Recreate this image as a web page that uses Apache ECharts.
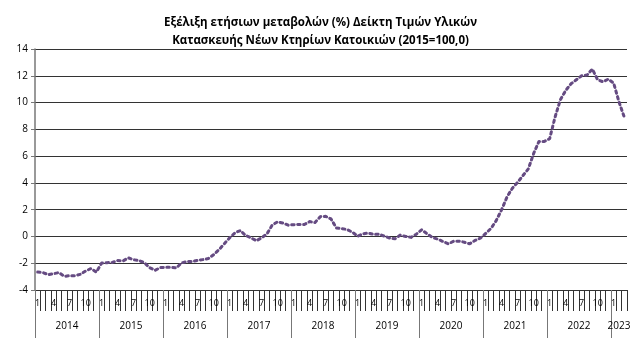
<!DOCTYPE html>
<html>
<head>
<meta charset="utf-8">
<script src="https://cdn.jsdelivr.net/npm/echarts@6/dist/echarts.min.js"></script>
<style>html,body{margin:0;padding:0;background:#fff}#c{width:641px;height:352px}</style>
</head>
<body>
<div id="c"></div>
<script>
var years = ['2014','2015','2016','2017','2018','2019','2020','2021','2022','2023'];
var monthsPerYear = [12,12,12,12,12,12,12,12,12,3];
var values2014 = [-2.66,-2.7,-2.86,-2.78,-2.7,-2.98,-2.93,-2.93,-2.83,-2.58,-2.4,-2.66];
var values2015 = [-1.99,-1.96,-1.94,-1.8,-1.83,-1.6,-1.74,-1.8,-1.96,-2.33,-2.53,-2.33];
var values2016 = [-2.3,-2.3,-2.35,-1.97,-1.88,-1.88,-1.78,-1.73,-1.65,-1.36,-0.99,-0.54];
var values2017 = [-0.1,0.27,0.44,0.07,-0.1,-0.32,-0.1,0.2,0.86,1.09,1.0,0.84];
var values2018 = [0.88,0.9,0.89,1.11,1.04,1.48,1.5,1.31,0.64,0.59,0.52,0.32];
var values2019 = [0.02,0.2,0.25,0.15,0.17,0.02,-0.12,-0.17,0.1,0,-0.07,0.17];
var values2020 = [0.5,0.2,-0.07,-0.2,-0.38,-0.55,-0.36,-0.35,-0.43,-0.55,-0.3,-0.13];
var values2021 = [0.22,0.6,1.2,2.0,2.95,3.6,4.05,4.55,5.05,6.2,7.1,7.1];
var values2022 = [7.3,8.9,10.2,10.9,11.4,11.7,12.0,12.05,12.5,11.7,11.55,11.75];
var values2023 = [11.45,10.05,8.9];
var yTicks = [-4,-2,0,2,4,6,8,10,12,14];

var values = [].concat(values2014,values2015,values2016,values2017,values2018,values2019,values2020,values2021,values2022,values2023);
var categories = [];
years.forEach(function(y,i){ for(var m=1;m<=monthsPerYear[i];m++){ categories.push(y+'-'+m); } });
var total = categories.length;
var yearStarts = [], yearMids = [], acc = 0;
years.forEach(function(y,i){ yearStarts.push(acc); yearMids.push(acc + monthsPerYear[i]/2); acc += monthsPerYear[i]; });

var font = 'Open Sans';
var chart = echarts.init(document.getElementById('c'));
chart.setOption({
  animation:false,
  title:{
    text:'Εξέλιξη ετήσιων μεταβολών (%) Δείκτη Τιμών Υλικών\nΚατασκευής Νέων Κτηρίων Κατοικιών (2015=100,0)',
    left:'center', top:9,
    textStyle:{fontFamily:font,fontSize:11.5,fontWeight:'bold',color:'#000',lineHeight:18}
  },
  grid:{left:35,right:14,top:49,bottom:62},
  xAxis:[{
    type:'category', data:categories, boundaryGap:true, position:'bottom',
    axisLine:{show:true,onZero:false,lineStyle:{color:'#333',width:1}},
    axisTick:{show:true,interval:0,length:21,lineStyle:{color:'#333',width:1}},
    axisLabel:{interval:2,margin:9,fontFamily:font,fontSize:9,color:'#000',
      formatter:function(v){return v.split('-')[1];}},
    splitLine:{show:false}
  },{
    type:'value', min:0, max:total, position:'bottom', offset:0,
    axisLine:{show:false,onZero:false},
    axisTick:{show:true,customValues:yearStarts,length:48,lineStyle:{color:'#777',width:1}},
    axisLabel:{show:true,customValues:yearMids,margin:31,fontFamily:font,fontSize:10,color:'#000',
      formatter:function(v){var i=yearMids.indexOf(v);return i>=0?years[i]:'';}},
    splitLine:{show:false}
  }],
  yAxis:{
    type:'value', min:yTicks[0], max:yTicks[yTicks.length-1], interval:2,
    axisLine:{show:true,onZero:false,lineStyle:{color:'#777',width:1.5}},
    axisTick:{show:true,length:4,lineStyle:{color:'#777'}},
    axisLabel:{margin:7,fontFamily:font,fontSize:10,color:'#000'},
    splitLine:{show:true,lineStyle:{color:'#333',width:1}}
  },
  series:[{
    type:'line', data:values, xAxisIndex:0, showSymbol:false, symbol:'none',
    lineStyle:{color:'#654b82',width:3,type:[2.5,3.5],cap:'round',join:'round'}
  }]
});
</script>
</body>
</html>
